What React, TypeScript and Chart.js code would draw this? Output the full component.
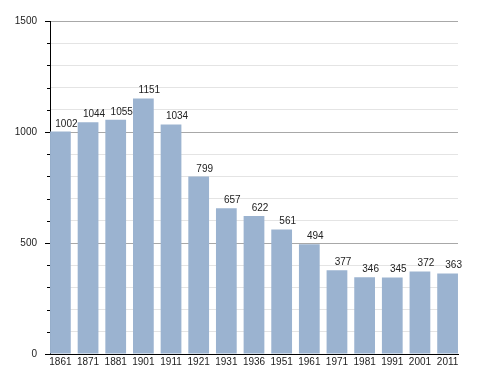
import React, { useEffect, useRef } from "react";
import { Chart, registerables } from "chart.js";

Chart.register(...registerables);

const years = ["1861", "1871", "1881", "1901", "1911", "1921", "1931", "1936", "1951", "1961", "1971", "1981", "1991", "2001", "2011"];
const population = [1002, 1044, 1055, 1151, 1034, 799, 657, 622, 561, 494, 377, 346, 345, 372, 363];
const yTicksMajor = [0, 500, 1000, 1500];

const FONT = "'Liberation Sans', Arial, sans-serif";

const labelPlugin = {
  id: "barLabels",
  afterDatasetsDraw(chart: any) {
    const ctx = chart.ctx;
    const meta = chart.getDatasetMeta(0);
    ctx.save();
    ctx.font = "10px " + FONT;
    ctx.fillStyle = "#222";
    ctx.textAlign = "center";
    ctx.textBaseline = "alphabetic";
    meta.data.forEach((bar: any, i: number) => {
      ctx.fillText(String(population[i]), bar.x + 6, bar.y - 5);
    });
    ctx.restore();
  },
};

const tickPlugin = {
  id: "yTickMarks",
  afterDraw(chart: any) {
    const ctx = chart.ctx;
    const y = chart.scales.y;
    const x0 = chart.chartArea.left;
    ctx.save();
    ctx.strokeStyle = "#000";
    ctx.lineWidth = 1;
    for (let v = 0; v <= 1500; v += 100) {
      const py = Math.round(y.getPixelForValue(v)) + 0.5;
      const len = yTicksMajor.includes(v) ? 5 : 3;
      ctx.beginPath();
      ctx.moveTo(x0 - len, py);
      ctx.lineTo(x0, py);
      ctx.stroke();
    }
    ctx.restore();
  },
};

export default function App() {
  const ref = useRef<HTMLCanvasElement>(null);
  useEffect(() => {
    if (!ref.current) return;
    const chart = new Chart(ref.current, {
      type: "bar",
      data: {
        datasets: [
          {
            data: population.map((v, i) => ({ x: i, y: v })),
            backgroundColor: "#9bb3d0",
            borderWidth: 0,
            barPercentage: 0.75,
            categoryPercentage: 1,
          },
        ],
      },
      options: {
        animation: false,
        responsive: false,
        maintainAspectRatio: false,
        layout: { padding: { top: 21, right: 30, left: 0, bottom: 0 } },
        plugins: { legend: { display: false }, tooltip: { enabled: false } },
        scales: {
          x: {
            type: "linear",
            offset: false,
            min: -0.376,
            max: 14.376,
            afterBuildTicks: (scale: any) => {
              scale.ticks = years.map((_, i) => ({ value: i }));
            },
            afterFit: (scale: any) => {
              scale.height = 19;
            },
            ticks: {
              autoSkip: false,
              maxRotation: 0,
              padding: 2,
              color: "#222",
              font: { family: FONT, size: 10 },
              callback: (v: any) => years[v] ?? "",
            },
            grid: { display: false, drawTicks: false, offset: false },
            border: { display: true, color: "#000", width: 1 },
          },
          y: {
            min: 0,
            max: 1500,
            afterFit: (scale: any) => {
              scale.width = 50;
            },
            ticks: {
              stepSize: 100,
              padding: 13,
              color: "#222",
              font: { family: FONT, size: 10 },
              callback: (v: any) => (yTicksMajor.includes(v) ? String(v) : ""),
            },
            grid: {
              drawTicks: false,
              color: (c: any) => (c.tick && yTicksMajor.includes(c.tick.value) ? "#a8a8a8" : "#e4e4e4"),
              lineWidth: 1,
            },
            border: { display: true, color: "#000", width: 1 },
          },
        },
      },
      plugins: [labelPlugin, tickPlugin],
    });
    return () => chart.destroy();
  }, []);
  return (
    <div style={{ position: "fixed", left: 0, top: 0, width: 488, height: 373, background: "#fff" }}>
      <canvas ref={ref} width={488} height={373} style={{ width: 488, height: 373 }} />
    </div>
  );
}
